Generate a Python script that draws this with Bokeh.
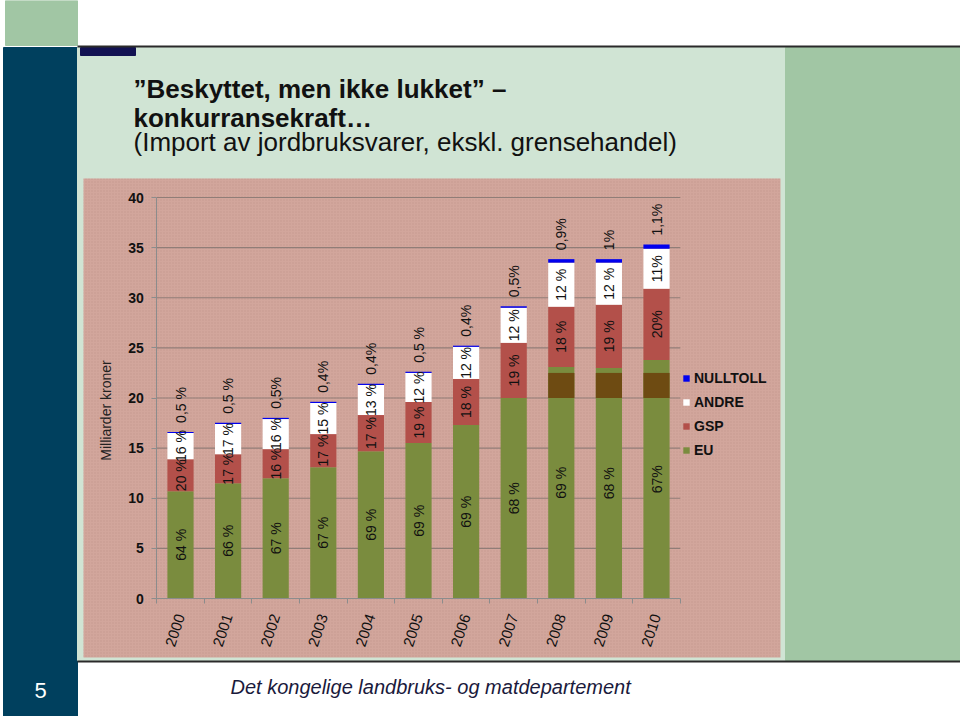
import math
from bokeh.plotting import figure
from bokeh.models import (Range1d, FixedTicker, LinearAxis, Legend, LegendItem,
                          ColumnDataSource)
from bokeh.core.properties import value
from bokeh.embed import file_html
from bokeh.resources import INLINE

# ---------------- data ----------------
years = ["2000", "2001", "2002", "2003", "2004", "2005",
         "2006", "2007", "2008", "2009", "2010"]
eu = [10.7, 11.5, 12.0, 13.1, 14.7, 15.5, 17.3, 20.0, 23.1, 23.0, 23.8]
gsp = [3.2, 2.9, 2.9, 3.3, 3.6, 4.1, 4.6, 5.5, 6.0, 6.3, 7.1]
andre = [2.6, 3.0, 3.0, 3.1, 3.0, 2.9, 3.2, 3.5, 4.4, 4.2, 4.0]
nulltoll = [0.12, 0.12, 0.12, 0.12, 0.12, 0.12, 0.12, 0.15, 0.35, 0.35, 0.4]

eu_lbl = ["64 %", "66 %", "67 %", "67 %", "69 %", "69 %", "69 %", "68 %", "69 %", "68 %", "67%"]
gsp_lbl = ["20 %", "17 %", "16 %", "17 %", "17 %", "19 %", "18 %", "19 %", "18 %", "19 %", "20%"]
andre_lbl = ["16 %", "17 %", "16 %", "15 %", "13 %", "12 %", "12 %", "12 %", "12 %", "12 %", "11%"]
null_lbl = ["0,5 %", "0,5 %", "0,5%", "0,4%", "0,4%", "0,5 %", "0,4%", "0,5%", "0,9%", "1%", "1,1%"]

# darker overlapping band seen in the last three bars
band_years = ["2008", "2009", "2010"]
band_lo = [20.0, 20.0, 20.0]
band_hi = [22.5, 22.5, 22.5]

yticks = [0, 5, 10, 15, 20, 25, 30, 35, 40]
series_names = ["EU", "GSP", "ANDRE", "NULLTOLL"]
y_title = "Milliarder kroner"
title_lines = ["\u201dBeskyttet, men ikke lukket\u201d \u2013",
               "konkurransekraft\u2026",
               "(Import av jordbruksvarer, ekskl. grensehandel)"]
footer_text = "Det kongelige landbruks- og matdepartement"
slide_no = "5"

# ---------------- layout constants ----------------
W, H = 960, 716
X0, DX = 180.0, 47.6      # pixel of first category centre, pixels per category
Y0, SY = 598.0, 10.025    # pixel of value 0, pixels per unit
FONT = value("Liberation Sans")

n = len(years)
xs = list(range(n))

p = figure(width=W, height=H, output_backend="svg", toolbar_location=None,
           x_range=Range1d(-X0 / DX, (W - X0) / DX),
           y_range=Range1d(-(H - Y0) / SY, Y0 / SY),
           x_axis_type=None, y_axis_type=None, min_border=0,
           outline_line_color=None, background_fill_color="white",
           border_fill_color="white")
p.extra_x_ranges = {"px": Range1d(0, W)}
p.extra_y_ranges = {"px": Range1d(H, 0)}

# ---------------- slide background ----------------
bg = dict(
    left=[5, 3, 77, 785, 80],
    right=[77, 77, 785, 960, 135],
    top=[0, 47, 47, 47, 47],
    bottom=[45, 716, 660, 660, 55],
    color=["#a1c6a4", "#00405e", "#d0e4d4", "#a1c6a4", "#121252"],
)
p.quad(left="left", right="right", top="top", bottom="bottom", color="color",
       source=ColumnDataSource(bg), x_range_name="px", y_range_name="px")
# chart area with fine dotted texture
p.quad(left=[83], right=[780], top=[178], bottom=[657], fill_color="#d2a69c",
       line_color=None, hatch_pattern="dot", hatch_color="#b58a80",
       hatch_scale=3, hatch_alpha=0.5, x_range_name="px", y_range_name="px")
p.segment(x0=[77, 77], x1=[960, 960], y0=[46, 661], y1=[46, 661],
          line_color="#2a2a2a", line_width=2, x_range_name="px", y_range_name="px")

# title
p.text(x=[133, 133], y=[88, 117], text=title_lines[:2], text_font=FONT,
       text_font_size="26px", text_font_style="bold", text_color="#111111",
       text_baseline="middle", x_range_name="px", y_range_name="px")
p.text(x=[133], y=[141], text=title_lines[2:], text_font=FONT,
       text_font_size="26px", text_color="#111111",
       text_baseline="middle", x_range_name="px", y_range_name="px")
# footer
p.text(x=[230], y=[686], text=[footer_text], text_font=FONT,
       text_font_size="20px", text_font_style="italic", text_color="#1a1a3c",
       text_baseline="middle", x_range_name="px", y_range_name="px")
p.text(x=[40], y=[690], text=[slide_no], text_font=FONT,
       text_font_size="22px", text_color="white", text_align="center",
       text_baseline="middle", x_range_name="px", y_range_name="px")
# y axis title
p.text(x=[105], y=[410], text=[y_title], text_font=FONT, angle=math.pi / 2,
       text_font_size="14px", text_color="#222222", text_align="center",
       text_baseline="middle", x_range_name="px", y_range_name="px")

# ---------------- gridlines ----------------
grid_y = [t for t in yticks if t > 0]
p.segment(x0=[-0.5] * len(grid_y), x1=[n - 0.5] * len(grid_y), y0=grid_y, y1=grid_y,
          line_color="#907d77", line_width=1.2)

# ---------------- bars ----------------
src = ColumnDataSource(dict(x=xs, EU=eu, GSP=gsp, ANDRE=andre, NULLTOLL=nulltoll))
colors = ["#7a8c3e", "#b3504a", "#ffffff", "#0000ee"]
rs = p.vbar_stack(series_names, x="x", width=0.55, color=colors, source=src,
                  line_color=None)

band_x = [years.index(y) for y in band_years]
p.vbar(x=band_x, bottom=band_lo, top=band_hi, width=0.55, color="#6e4b12",
       line_color=None)

# ---------------- labels ----------------
def mids(base, h):
    return [b + v / 2 for b, v in zip(base, h)]

b_eu = [0] * n
b_gsp = eu[:]
b_andre = [a + b for a, b in zip(eu, gsp)]
tops = [a + b + c + d for a, b, c, d in zip(eu, gsp, andre, nulltoll)]

lbl_kw = dict(angle=math.pi / 2, text_font=FONT, text_font_size="14px",
              text_color="#111111", text_baseline="middle")
p.text(x=xs, y=mids(b_eu, eu), text=eu_lbl, text_align="center", **lbl_kw)
p.text(x=xs, y=mids(b_gsp, gsp), text=gsp_lbl, text_align="center", **lbl_kw)
p.text(x=xs, y=mids(b_andre, andre), text=andre_lbl, text_align="center", **lbl_kw)
p.text(x=xs, y=tops, text=null_lbl, text_align="left", y_offset=-9, **lbl_kw)

# ---------------- axes ----------------
yaxis = LinearAxis(ticker=FixedTicker(ticks=yticks), fixed_location=-0.5,
                   bounds=(0, 40))
yaxis.axis_line_color = "#8c8c8c"
yaxis.major_tick_line_color = "#8c8c8c"
yaxis.major_tick_out = 5
yaxis.major_tick_in = 0
yaxis.minor_tick_line_color = None
yaxis.major_label_standoff = 8
yaxis.major_label_text_font = "Liberation Sans"
yaxis.major_label_text_font_style = "bold"
yaxis.major_label_text_font_size = "14px"
yaxis.major_label_text_color = "#111111"
p.add_layout(yaxis, "left")

xaxis = LinearAxis(ticker=FixedTicker(ticks=xs, minor_ticks=[i - 0.5 for i in range(n + 1)]),
                   fixed_location=0, bounds=(-0.5, n - 0.5),
                   major_label_overrides={i: y for i, y in enumerate(years)})
xaxis.axis_line_color = "#8c8c8c"
xaxis.major_tick_line_color = None
xaxis.minor_tick_line_color = "#8c8c8c"
xaxis.minor_tick_out = 5
xaxis.minor_tick_in = 0
xaxis.major_label_orientation = 1.25
xaxis.major_label_standoff = 10
xaxis.major_label_text_font = "Liberation Sans"
xaxis.major_label_text_font_size = "15px"
xaxis.major_label_text_color = "#111111"
p.add_layout(xaxis, "below")

# ---------------- legend ----------------
legend = Legend(items=[LegendItem(label=series_names[i], renderers=[rs[i]]) for i in (3, 2, 1, 0)],
                location=(682, 256), margin=0, padding=0, spacing=4,
                glyph_width=8, glyph_height=8, label_height=20, label_standoff=4,
                label_text_font="Liberation Sans", label_text_font_style="bold",
                label_text_font_size="14px", label_text_color="#111111",
                background_fill_alpha=0, border_line_alpha=0)
p.add_layout(legend)

open("out.html", "w").write(file_html(p, INLINE))
